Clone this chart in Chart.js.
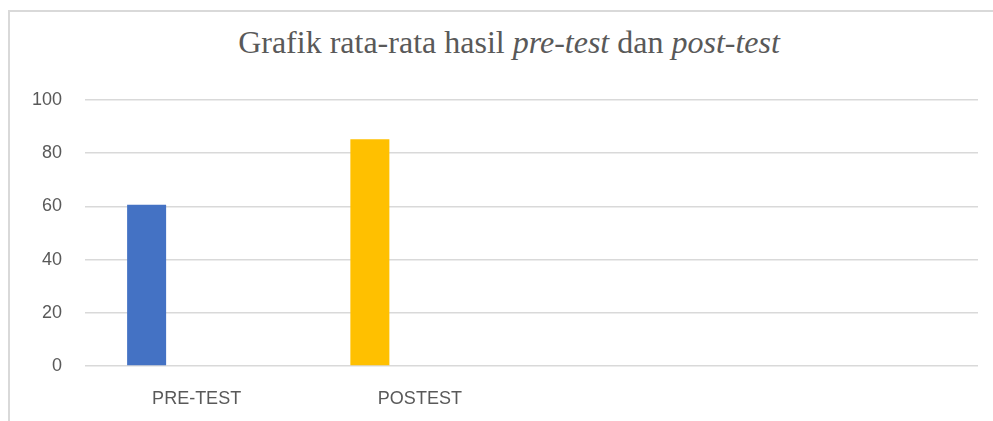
<!DOCTYPE html>
<html>
<head>
<meta charset="utf-8">
<script src="https://cdn.jsdelivr.net/npm/chart.js@4"></script>
<style>
  html, body { margin: 0; padding: 0; background: #fff; overflow: hidden; }
  #wrap { position: relative; width: 993px; height: 421px; }
  #frame {
    position: absolute; left: 8px; top: 10px; width: 1100px; height: 500px;
    border: 2px solid #d9d9d9; box-sizing: border-box;
  }
  #judul {
    position: absolute; left: 0; top: 26px; width: 1018px; text-align: center;
    font-family: "Liberation Serif", "Times New Roman", serif; font-size: 32px;
    line-height: 32px; color: #595959; white-space: nowrap;
  }
  #myChart1 { position: absolute; left: 0; top: 0; }
</style>
</head>
<body>
<div id="wrap">
  <div id="frame"></div>
  <div id="judul">Grafik rata-rata hasil <i>pre-test</i> dan <i>post-test</i></div>
  <canvas id="myChart1" width="993" height="421"></canvas>
</div>
<script>
//------------------ data ------------------//
const kategori = ['PRE-TEST', 'POSTEST', '', '']
const nilaiRata = [60.6, 85.2, null, null]       // rata-rata nilai
const warnaBatang = ['#4472C4', '#FFC000', '#A5A5A5', '#ED7D31']
const seriKosong = [null, null, null, null]      // seri kedua (kosong)
const tickY = [0, 20, 40, 60, 80, 100]
//-----------------------------------------//

const FONT_AXIS = { family: '"Liberation Sans", Arial, sans-serif', size: 18 }
const ABU = '#595959'
const GARIS = '#d9d9d9'

const ctx = document.getElementById('myChart1')
window.myChart = new Chart(ctx, {
    type: 'bar',
    data: {
        labels: kategori,
        datasets: [
            {
                label: 'Rata-rata',
                data: nilaiRata,
                backgroundColor: warnaBatang,
                categoryPercentage: 0.896,
                barPercentage: 0.39
            },
            {
                label: 'Seri 2',
                data: seriKosong,
                backgroundColor: '#ED7D31',
                categoryPercentage: 0.896,
                barPercentage: 0.39
            }
        ]
    },
    options: {
        responsive: false,
        animation: false,
        layout: { padding: { left: 0, right: 15, top: 100, bottom: 0 } },
        plugins: {
            legend: { display: false },
            title: { display: false },
            tooltip: { enabled: false }
        },
        scales: {
            x: {
                grid: { display: false, drawTicks: false },
                border: { display: false },
                ticks: { color: ABU, font: FONT_AXIS, padding: 22, maxRotation: 0 },
                afterFit: function(scale){ scale.height = 55 }
            },
            y: {
                min: 0,
                max: 100,
                afterBuildTicks: function(scale){
                    scale.ticks = tickY.map(function(v){ return { value: v } })
                },
                grid: { color: GARIS, lineWidth: 1.5, drawTicks: false },
                border: { display: false },
                ticks: { color: ABU, font: FONT_AXIS, padding: 23 },
                afterFit: function(scale){ scale.width = 85 }
            }
        }
    }
})
</script>
</body>
</html>
